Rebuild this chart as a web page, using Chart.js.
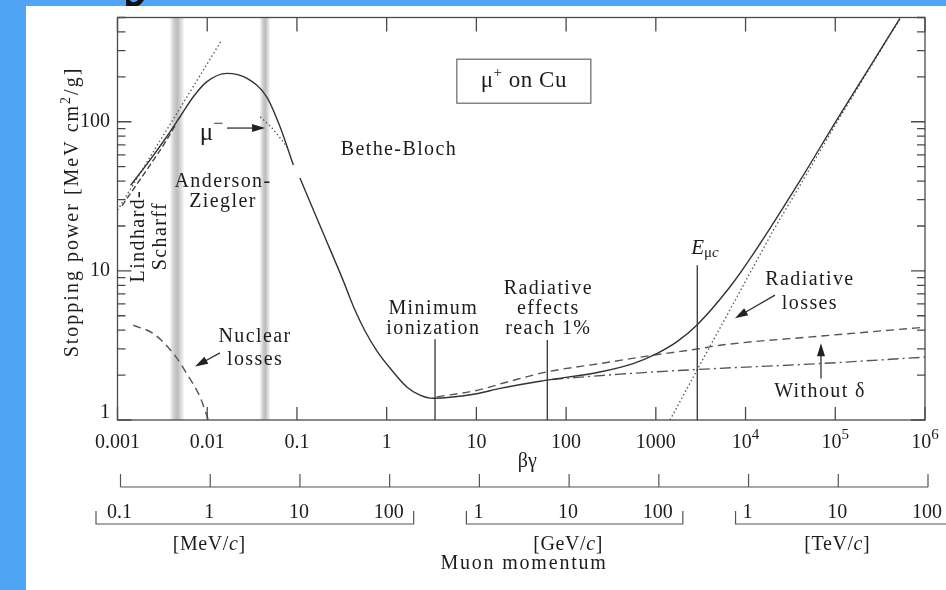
<!DOCTYPE html>
<html>
<head>
<meta charset="utf-8">
<script src="https://cdn.jsdelivr.net/npm/chart.js@4.4.1/dist/chart.umd.min.js"></script>
<style>
  html, body { margin: 0; padding: 0; background: #50a4f5; overflow: hidden; }
  #panel { position: absolute; left: 26px; top: 6px; width: 920px; height: 584px; background: #fff; }
  #glyph { position: absolute; left: 0; top: 0; width: 946px; height: 6px; overflow: hidden; }
  #glyph span { position: absolute; left: 124px; top: -92px; font: bold 88px "Liberation Serif"; color: #111; }
  canvas { position: absolute; left: 0; top: 0; }
</style>
</head>
<body>
<div id="glyph"><span>y</span></div>
<div id="panel"></div>
<canvas id="c" width="946" height="590"></canvas>
<script>
// beta*gamma (x) and stopping power in MeV cm2/g (y)
const andersonBG = [0.0014, 0.0023, 0.00353, 0.00498, 0.0070, 0.00986, 0.0165, 0.0275, 0.046, 0.0648, 0.0912];
const andersonSP = [37.5, 55.3, 79.3, 108, 147, 185, 211, 196, 147, 92.5, 51.2];

const betheBG = [0.108, 0.19, 0.326, 0.443, 0.574, 0.78, 1.09, 1.69, 2.35, 3.28, 10.1, 18.3, 60.8, 238, 557, 1023, 1710, 2858, 6720, 12200, 40800, 104000, 244000, 526000];
const betheSP = [41.9, 18.7, 8.67, 5.46, 3.95, 2.90, 2.23, 1.66, 1.47, 1.40, 1.50, 1.63, 1.85, 2.10, 2.39, 2.79, 3.34, 4.32, 7.82, 13.0, 40.6, 103, 234, 494];

const noDeltaBG = [3.61, 10.1, 23.7, 60.8, 238, 937, 3100, 5190, 67600, 1e6];
const noDeltaSP = [1.43, 1.58, 1.82, 2.10, 2.39, 2.72, 3.01, 3.17, 3.65, 4.19];

const ionBG = [70, 399, 2858, 67600, 1e6];
const ionSP = [1.87, 2.03, 2.18, 2.39, 2.64];

const radBG = [1439, 2877, 20370, 43800, 108000, 248000, 531000];
const radSP = [1.0, 2.16, 18.7, 40.6, 103, 234, 494];

const nuclearBG = [0.0015, 0.0025, 0.0042, 0.0059, 0.0083, 0.0103];
const nuclearSP = [4.32, 3.80, 2.79, 2.05, 1.43, 1.0];

const lindhardBG = [0.001, 0.0145];
const lindhardSP = [25.5, 353];

const scharffBG = [0.00112, 0.00211, 0.00353, 0.0045];
const scharffSP = [27.3, 47.4, 75.4, 97];

const muMinusBG = [0.039, 0.0527, 0.0705, 0.078];
const muMinusSP = [108, 90.8, 73.4, 67];

// axes
const xTickValues = [0.001, 0.01, 0.1, 1, 10, 100, 1000, 1e4, 1e5, 1e6];
const xTickLabels = ['0.001', '0.01', '0.1', '1', '10', '100', '1000', '10^4', '10^5', '10^6'];
const yTickValues = [1, 10, 100];
const yTickLabels = ['1', '10', '100'];
const momTickLabels = ['0.1', '1', '10', '100', '1', '10', '100', '1', '10', '100'];
const momGroups = [[0, 3], [4, 6], [7, 9]];
const momUnits = ['MeV', 'GeV', 'TeV'];

// annotations, in data coordinates
const notes = [
  ['Bethe-Bloch', 1.37, 64.6],
  ['Anderson-', 0.015, 39.6],
  ['Ziegler', 0.015, 29.1],
  ['Nuclear', 0.0341, 3.61],
  ['losses', 0.0341, 2.52],
  ['Minimum', 3.31, 5.61],
  ['ionization', 3.31, 4.12],
  ['Radiative', 63.4, 7.64],
  ['effects', 63.4, 5.61],
  ['reach 1%', 63.4, 4.12],
  ['Radiative', 52200, 8.68],
  ['losses', 52200, 6.06],
  ['Without δ', 67600, 1.55]
];
const sideNotes = [['Lindhard-', 0.00174, 17.1], ['Scharff', 0.00305, 17.1]];
const markers = [[3.46, 3.48], [61.7, 3.44], [2897, 10.9]];
const arrows = [
  [0.0166, 90.7, 0.0441, 90.7],
  [0.01387, 2.82, 0.00731, 2.28],
  [21300, 6.88, 7620, 4.81],
  [69300, 1.90, 69300, 3.27]
];
const bands = [0.0046, 0.044];

const INK = '#1c1c1c';
const F = (s, it) => (it ? 'italic ' : '') + s + 'px "Liberation Serif"';

function rich(ctx, segs, x, y, align, spacing) {
  ctx.letterSpacing = (spacing || 0) + 'px';
  let w = 0;
  segs.forEach(s => { ctx.font = s.f; s.w = ctx.measureText(s.t).width; w += s.w; });
  let cx = align === 'right' ? x - w : align === 'left' ? x : x - w / 2;
  ctx.textAlign = 'left';
  ctx.textBaseline = 'middle';
  segs.forEach(s => { ctx.font = s.f; ctx.fillText(s.t, cx, y + (s.dy || 0)); cx += s.w; });
  ctx.letterSpacing = '0px';
}

function tickSegs(label) {
  const p = label.split('^');
  const segs = [{ t: p[0], f: F(20) }];
  if (p[1]) segs.push({ t: p[1], f: F(15), dy: -8 });
  return segs;
}

function arrow(ctx, x1, y1, x2, y2) {
  const a = Math.atan2(y2 - y1, x2 - x1);
  ctx.beginPath();
  ctx.moveTo(x1, y1);
  ctx.lineTo(x2 - 8 * Math.cos(a), y2 - 8 * Math.sin(a));
  ctx.stroke();
  ctx.beginPath();
  ctx.moveTo(x2, y2);
  ctx.lineTo(x2 - 13 * Math.cos(a) + 4 * Math.sin(a), y2 - 13 * Math.sin(a) - 4 * Math.cos(a));
  ctx.lineTo(x2 - 13 * Math.cos(a) - 4 * Math.sin(a), y2 - 13 * Math.sin(a) + 4 * Math.cos(a));
  ctx.closePath();
  ctx.fill();
}

const decor = {
  id: 'decor',
  beforeDatasetsDraw(chart) {
    const { ctx, chartArea: ca, scales: { x: xs } } = chart;
    ctx.save();
    bands.forEach((b, i) => {
      const cx = xs.getPixelForValue(b);
      const hw = i === 0 ? 7 : 5;
      const g = ctx.createLinearGradient(cx - hw, 0, cx + hw, 0);
      g.addColorStop(0, 'rgba(0,0,0,0.03)');
      g.addColorStop(0.3, 'rgba(0,0,0,0.2)');
      g.addColorStop(0.55, 'rgba(0,0,0,0.26)');
      g.addColorStop(1, 'rgba(0,0,0,0.03)');
      ctx.fillStyle = g;
      ctx.fillRect(cx - hw, ca.top, hw * 2, ca.bottom - ca.top);
    });
    ctx.restore();
  },
  afterDatasetsDraw(chart) {
    const { ctx, chartArea: ca, scales: { x: xs, y: ys } } = chart;
    const px = v => xs.getPixelForValue(v);
    const py = v => ys.getPixelForValue(v);
    ctx.save();

    // frame and ticks
    ctx.strokeStyle = '#4a4a4a';
    ctx.lineWidth = 1.3;
    ctx.strokeRect(ca.left, ca.top, ca.right - ca.left, ca.bottom - ca.top);
    ctx.beginPath();
    for (let d = 0; d < 3; d++) {
      for (let k = 1; k <= 9; k++) {
        const v = k * Math.pow(10, d);
        if (v > 500) break;
        const y = py(v);
        const len = k === 1 ? 14 : 8;
        ctx.moveTo(ca.left, y); ctx.lineTo(ca.left + len, y);
        ctx.moveTo(ca.right, y); ctx.lineTo(ca.right - len, y);
      }
    }
    xTickValues.forEach(v => {
      const x = px(v);
      ctx.moveTo(x, ca.top); ctx.lineTo(x, ca.top + 14);
      ctx.moveTo(x, ca.bottom); ctx.lineTo(x, ca.bottom - 13);
    });
    ctx.stroke();

    ctx.fillStyle = INK;
    xTickValues.forEach((v, i) => rich(ctx, tickSegs(xTickLabels[i]), px(v), ca.bottom + 23, 'center'));
    yTickValues.forEach((v, i) => rich(ctx, [{ t: yTickLabels[i], f: F(20) }], ca.left - 7.5, py(v) + (i === 0 ? -7 : 0), 'right'));
    rich(ctx, [{ t: 'βγ', f: F(20) }], px(37), ca.bottom + 42, 'center');

    // y title
    ctx.save();
    ctx.translate(ca.left - 44.5, 212);
    ctx.rotate(-Math.PI / 2);
    rich(ctx, [{ t: 'Stopping power [MeV cm', f: F(20) }, { t: '2', f: F(14), dy: -7 }, { t: '/g]', f: F(20) }], 0, 0, 'center', 2);
    ctx.restore();

    // momentum axis
    const mY = ca.bottom + 67, bY = ca.bottom + 104;
    ctx.strokeStyle = '#555';
    ctx.lineWidth = 1.2;
    ctx.beginPath();
    ctx.moveTo(px(xTickValues[0]) + 3, mY);
    ctx.lineTo(px(xTickValues[xTickValues.length - 1]) + 3, mY);
    xTickValues.forEach(v => { ctx.moveTo(px(v) + 3, mY); ctx.lineTo(px(v) + 3, mY - 13); });
    momGroups.forEach((g, gi) => {
      const l = px(xTickValues[g[0]]) - (gi === 0 ? 21.5 : 10);
      const r = px(xTickValues[g[1]]) + 27;
      ctx.moveTo(l, bY - 13); ctx.lineTo(l, bY); ctx.lineTo(r, bY); ctx.lineTo(r, bY - 13);
    });
    ctx.stroke();
    xTickValues.forEach((v, i) => rich(ctx, [{ t: momTickLabels[i], f: F(20) }], px(v) + 2, bY - 11, 'center'));
    momGroups.forEach((g, gi) => {
      const mid = xTickValues[g[0] + 1];
      rich(ctx, [{ t: '[' + momUnits[gi] + '/', f: F(20) }, { t: 'c', f: F(20, true) }, { t: ']', f: F(20) }], px(mid) + 2, bY + 21, 'center', 0.6);
    });
    rich(ctx, [{ t: 'Muon momentum', f: F(20) }], px(34), bY + 40, 'center', 1.8);

    // annotations
    notes.forEach(n => rich(ctx, [{ t: n[0], f: F(20) }], px(n[1]), py(n[2]), 'center', 1.4));
    sideNotes.forEach(n => {
      ctx.save();
      ctx.translate(px(n[1]), py(n[2]));
      ctx.rotate(-Math.PI / 2);
      rich(ctx, [{ t: n[0], f: F(20) }], 0, 0, 'center', 1.4);
      ctx.restore();
    });
    rich(ctx, [{ t: 'μ', f: F(25) }, { t: '−', f: F(18), dy: -9 }], px(0.0112), py(84), 'center');
    rich(ctx, [{ t: 'E', f: F(21, true) }, { t: 'μ', f: F(15), dy: 5 }, { t: 'c', f: F(15, true), dy: 5 }], px(3530), py(14.2), 'center');

    // title box
    const bx = px(33.8), by = py(187);
    ctx.fillStyle = '#fff';
    ctx.fillRect(bx - 67, by - 22, 134, 44);
    ctx.strokeStyle = '#666';
    ctx.lineWidth = 1.2;
    ctx.strokeRect(bx - 67, by - 22, 134, 44);
    ctx.fillStyle = INK;
    rich(ctx, [{ t: 'μ', f: F(23) }, { t: '+', f: F(15), dy: -8 }, { t: ' on Cu', f: F(23) }], bx, by, 'center', 0.5);

    // marker lines and arrows
    ctx.strokeStyle = '#333';
    ctx.lineWidth = 1.3;
    ctx.beginPath();
    markers.forEach(m => { ctx.moveTo(px(m[0]), py(m[1])); ctx.lineTo(px(m[0]), ca.bottom); });
    ctx.stroke();
    ctx.fillStyle = '#222';
    arrows.forEach(a => arrow(ctx, px(a[0]), py(a[1]), px(a[2]), py(a[3])));

    ctx.restore();
  }
};

function series(bg, sp, style) {
  return Object.assign({
    data: bg.map((x, i) => ({ x: x, y: sp[i] })),
    showLine: true,
    pointRadius: 0,
    borderColor: '#333',
    borderWidth: 1.4,
    fill: false,
    cubicInterpolationMode: 'monotone'
  }, style);
}

const dashed = { borderColor: '#555', borderDash: [8, 5] };
const dotted = { borderColor: '#555', borderWidth: 1.3, borderDash: [1.5, 2.5], cubicInterpolationMode: 'default', tension: 0 };

new Chart(document.getElementById('c'), {
  type: 'scatter',
  data: {
    datasets: [
      series(andersonBG, andersonSP, {}),
      series(betheBG, betheSP, {}),
      series(noDeltaBG, noDeltaSP, dashed),
      series(ionBG, ionSP, { borderColor: '#555', borderDash: [11, 4, 2, 4] }),
      series(radBG, radSP, dotted),
      series(nuclearBG, nuclearSP, dashed),
      series(lindhardBG, lindhardSP, dotted),
      series(scharffBG, scharffSP, { borderColor: '#444', borderDash: [6, 3] }),
      series(muMinusBG, muMinusSP, dotted)
    ]
  },
  options: {
    responsive: false,
    animation: false,
    events: [],
    layout: { padding: { left: 117.5, right: 21, top: 17.5, bottom: 170 } },
    plugins: { legend: { display: false }, tooltip: { enabled: false } },
    scales: {
      x: { type: 'logarithmic', min: 0.001, max: 1e6, display: false },
      y: { type: 'logarithmic', min: 1, max: 500, display: false }
    }
  },
  plugins: [decor]
});
</script>
</body>
</html>
